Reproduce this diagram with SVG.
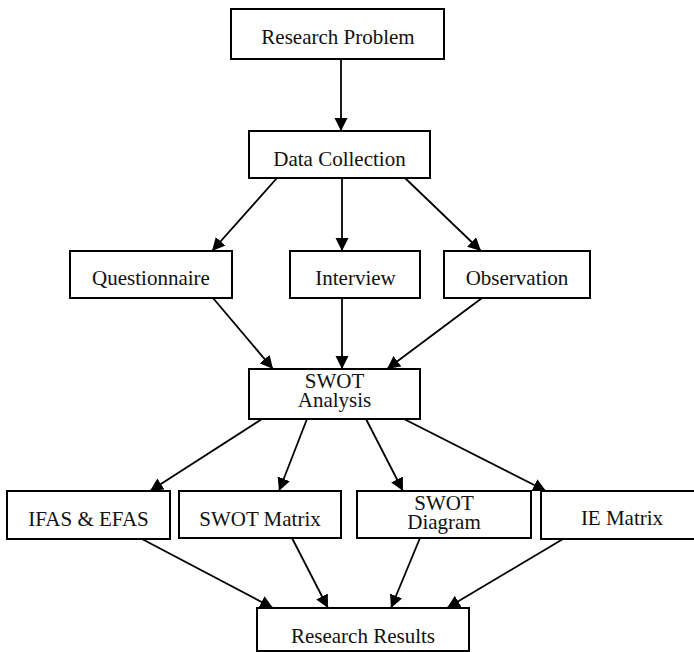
<svg xmlns="http://www.w3.org/2000/svg" width="694" height="652" viewBox="0 0 694 652">
<defs>
<marker id="ah" markerUnits="userSpaceOnUse" markerWidth="14" markerHeight="14" refX="13" refY="6.5" orient="auto">
<path d="M0,0 L13,6.5 L0,13 z" fill="#000"/>
</marker>
<style>
rect{fill:#fff;stroke:#000;stroke-width:2}
text{font-family:"Liberation Serif","Times New Roman",serif;font-size:21px;fill:#111;text-anchor:middle}
#connectors line{stroke:#000;stroke-width:1.8;marker-end:url(#ah)}
</style>
</defs>
<rect x="0" y="0" width="694" height="652" style="fill:#fff;stroke:none"/>
<g id="connectors">
<line x1="341" y1="59" x2="341" y2="131"/>
<line x1="277" y1="178" x2="212" y2="251"/>
<line x1="342" y1="178" x2="342" y2="251"/>
<line x1="405" y1="178" x2="481" y2="251"/>
<line x1="213" y1="298" x2="273" y2="369"/>
<line x1="342" y1="298" x2="342" y2="369"/>
<line x1="482" y1="298" x2="387" y2="369"/>
<line x1="262" y1="419" x2="150" y2="491"/>
<line x1="307" y1="419" x2="279" y2="491"/>
<line x1="366" y1="419" x2="403" y2="491"/>
<line x1="404" y1="419" x2="546" y2="491"/>
<line x1="142" y1="539" x2="273" y2="608"/>
<line x1="292" y1="538" x2="328" y2="608"/>
<line x1="420" y1="538" x2="391" y2="608"/>
<line x1="563" y1="539" x2="447" y2="608"/>
</g>
<g id="research-problem"><rect x="231" y="9" width="213" height="50"/><text x="338" y="44">Research Problem</text></g>
<g id="data-collection"><rect x="249" y="131" width="181" height="47"/><text x="339.5" y="166">Data Collection</text></g>
<g id="questionnaire"><rect x="70" y="251" width="162" height="47"/><text x="151" y="285">Questionnaire</text></g>
<g id="interview"><rect x="290" y="251" width="130" height="47"/><text x="355.5" y="285">Interview</text></g>
<g id="observation"><rect x="444" y="251" width="146" height="47"/><text x="517" y="285">Observation</text></g>
<g id="swot-analysis"><rect x="249" y="369" width="171" height="50"/><text x="334.5" y="388">SWOT</text><text x="334.5" y="407">Analysis</text></g>
<g id="ifas-efas"><rect x="7" y="491" width="163" height="48"/><text x="88.5" y="526">IFAS &amp; EFAS</text></g>
<g id="swot-matrix"><rect x="179" y="491" width="162" height="47"/><text x="260" y="526">SWOT Matrix</text></g>
<g id="swot-diagram"><rect x="357" y="491" width="174" height="47"/><text x="444" y="510">SWOT</text><text x="444" y="529">Diagram</text></g>
<g id="ie-matrix"><rect x="541" y="491" width="163" height="48"/><text x="622" y="525">IE Matrix</text></g>
<g id="research-results"><rect x="257" y="608" width="212" height="43"/><text x="363" y="643">Research Results</text></g>
</svg>
